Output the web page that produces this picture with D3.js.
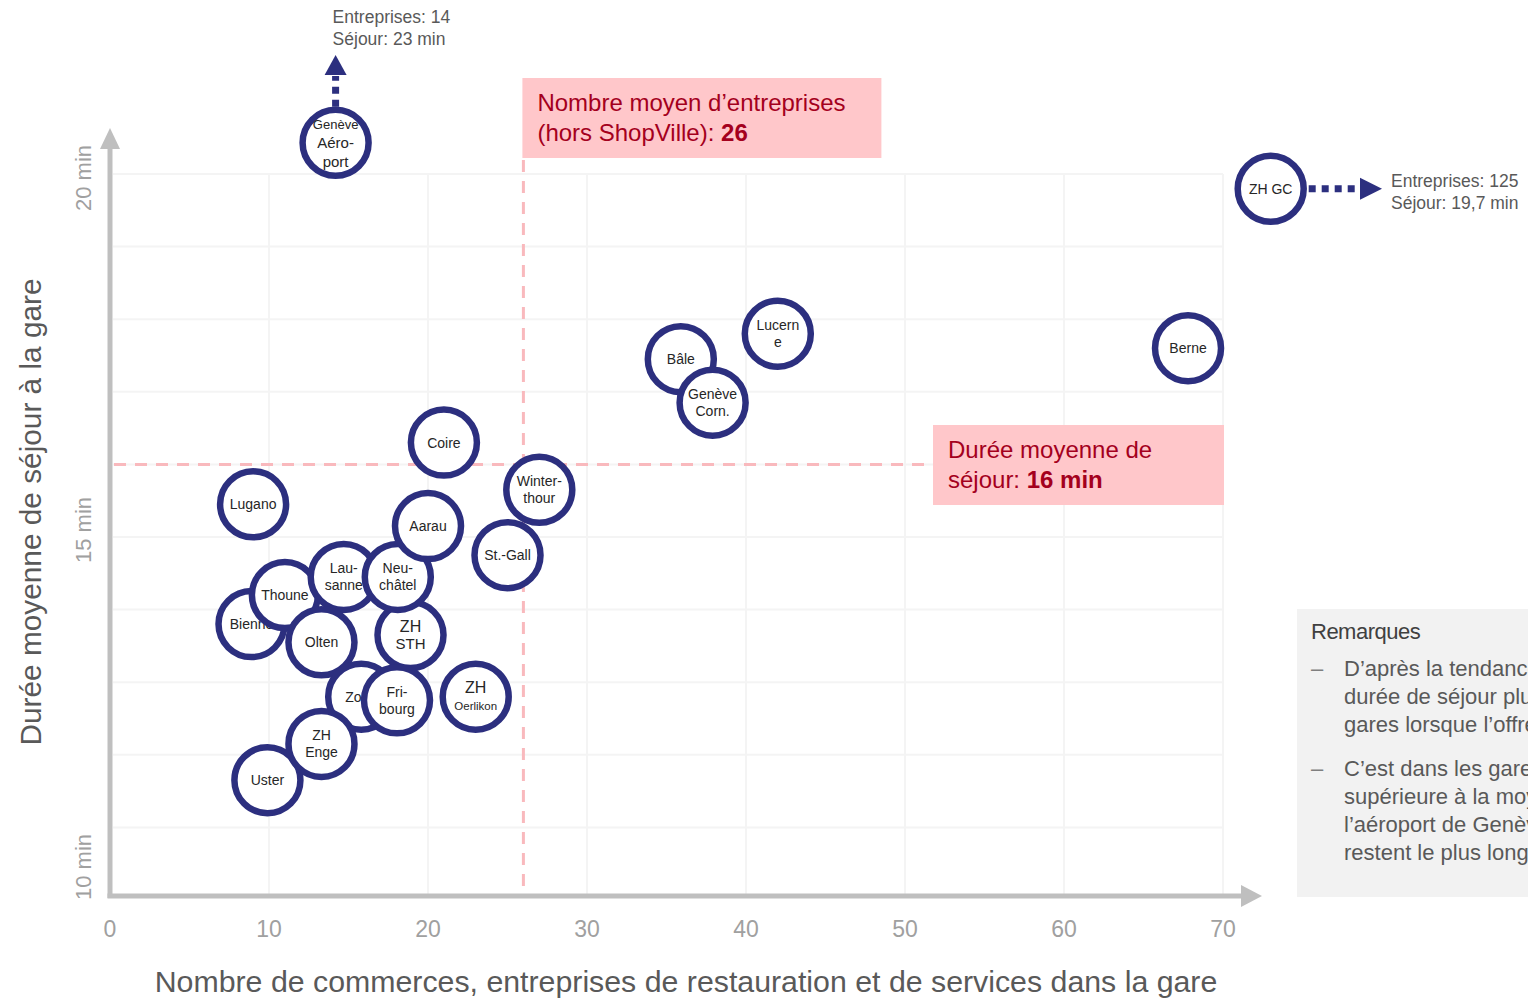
<!DOCTYPE html>
<html>
<head>
<meta charset="utf-8">
<script src="https://cdn.jsdelivr.net/npm/d3@7"></script>
<style>
  html, body { margin: 0; padding: 0; overflow: hidden; background: #fff; }
  svg { display: block; font-family: "Liberation Sans", Arial, sans-serif; }
</style>
</head>
<body>
<div id="chart"></div>
<script>
// Stations (drawing order matters: later circles cover earlier ones)
const stations = ["Lugano", "Bienne", "Thoune", "Lausanne", "Olten", "Zoug", "Uster", "ZH Enge",
  "ZH STH", "Neuchâtel", "Aarau", "Fribourg", "ZH Oerlikon", "Coire", "St.-Gall", "Winterthour",
  "Bâle", "Genève Corn.", "Lucerne", "Berne", "Genève Aéroport", "ZH GC"];
const entreprises = [9, 8.9, 11, 14.7, 13.3, 15.8, 9.9, 13.3,
  18.9, 18.1, 20, 18.05, 23, 21, 25, 27,
  35.9, 37.9, 42, 67.8, 14, 125];
const sejour = [15.45, 13.8, 14.2, 14.45, 13.55, 12.8, 11.65, 12.15,
  13.65, 14.45, 15.15, 12.75, 12.8, 16.3, 14.75, 15.65,
  17.45, 16.85, 17.8, 17.6, 23, 19.7];
const labelLines = [["Lugano"], ["Bienne"], ["Thoune"], ["Lau-", "sanne"], ["Olten"], ["Zoug"], ["Uster"], ["ZH", "Enge"],
  ["ZH", "STH"], ["Neu-", "châtel"], ["Aarau"], ["Fri-", "bourg"], ["ZH", "Oerlikon"], ["Coire"], ["St.-Gall"], ["Winter-", "thour"],
  ["Bâle"], ["Genève", "Corn."], ["Lucern", "e"], ["Berne"], ["Genève", "Aéro-", "port"], ["ZH GC"]];

const xTicks = [0, 10, 20, 30, 40, 50, 60, 70];
const yTicks = [10, 15, 20];
const yTickLabels = ["10 min", "15 min", "20 min"];
const meanEntreprises = 26;
const meanSejour = 16;

const width = 1528, height = 999;
const navy = "#2c2f7f";
const pinkFill = "#ffc7ca";
const darkRed = "#a4001d";

const svg = d3.select("#chart").append("svg")
  .attr("width", width)
  .attr("height", height);

const x = d3.scaleLinear().domain([0, 70]).range([110, 1223]);
const y = d3.scaleLinear().domain([10, 20]).range([900, 174]);

// Grid
const grid = svg.append("g").attr("stroke", "#f4f4f4").attr("stroke-width", 2);
grid.selectAll("line.h")
  .data(d3.range(11, 21))
  .enter().append("line")
  .attr("x1", x(0) + 3).attr("x2", x(70))
  .attr("y1", d => y(d)).attr("y2", d => y(d));
grid.selectAll("line.v")
  .data(d3.range(10, 71, 10))
  .enter().append("line")
  .attr("x1", d => x(d)).attr("x2", d => x(d))
  .attr("y1", y(20)).attr("y2", y(10) - 6);

// Mean lines
svg.append("line")
  .attr("x1", x(0) + 4).attr("x2", 933)
  .attr("y1", y(meanSejour)).attr("y2", y(meanSejour))
  .attr("stroke", "#f9b9bd").attr("stroke-width", 3)
  .attr("stroke-dasharray", "12,9");
svg.append("line")
  .attr("x1", x(meanEntreprises)).attr("x2", x(meanEntreprises))
  .attr("y1", 160).attr("y2", y(10) - 6)
  .attr("stroke", "#f9b9bd").attr("stroke-width", 3)
  .attr("stroke-dasharray", "12,9");

// Axes (thick grey with arrowheads)
const axisColor = "#bfbfbf";
svg.append("line")
  .attr("x1", x(0)).attr("x2", x(0))
  .attr("y1", 898).attr("y2", 146)
  .attr("stroke", axisColor).attr("stroke-width", 5);
svg.append("path")
  .attr("d", `M${x(0)},128 L${x(0) - 10},149 L${x(0) + 10},149 Z`)
  .attr("fill", axisColor);
svg.append("line")
  .attr("x1", x(0) - 2.5).attr("x2", 1244)
  .attr("y1", 896).attr("y2", 896)
  .attr("stroke", axisColor).attr("stroke-width", 5);
svg.append("path")
  .attr("d", `M1262,896 L1241,885 L1241,907 Z`)
  .attr("fill", axisColor);

// Tick labels
svg.selectAll("text.xtick")
  .data(xTicks)
  .enter().append("text")
  .attr("class", "xtick")
  .attr("x", d => x(d))
  .attr("y", 937)
  .attr("text-anchor", "middle")
  .attr("fill", "#a0a0a0")
  .style("font-size", "23px")
  .text(d => d);

svg.selectAll("text.ytick")
  .data(yTicks)
  .enter().append("text")
  .attr("class", "ytick")
  .attr("transform", d => `translate(91,${Math.min(y(d) + (d === 20 ? 4 : -7), y(10) - 33)}) rotate(-90)`)
  .attr("text-anchor", "middle")
  .attr("fill", "#a0a0a0")
  .style("font-size", "22px")
  .text((d, i) => yTickLabels[i]);

// Axis titles
svg.append("text")
  .attr("x", 686).attr("y", 992)
  .attr("text-anchor", "middle")
  .attr("fill", "#595959")
  .style("font-size", "30.3px")
  .text("Nombre de commerces, entreprises de restauration et de services dans la gare");
svg.append("text")
  .attr("transform", "translate(41,512) rotate(-90)")
  .attr("text-anchor", "middle")
  .attr("fill", "#595959")
  .style("font-size", "29.8px")
  .text("Durée moyenne de séjour à la gare");

// Annotation boxes
function noteBox(bx, by, bw, bh, line1, line2a, line2b) {
  svg.append("rect")
    .attr("x", bx).attr("y", by).attr("width", bw).attr("height", bh)
    .attr("fill", pinkFill);
  svg.append("text")
    .attr("x", bx + 15).attr("y", by + 33)
    .attr("fill", darkRed).style("font-size", "24px")
    .text(line1);
  const t = svg.append("text")
    .attr("x", bx + 15).attr("y", by + 63)
    .attr("fill", darkRed).style("font-size", "24px");
  t.append("tspan").text(line2a);
  t.append("tspan").attr("font-weight", "bold").text(line2b);
}
noteBox(x(meanEntreprises) - 1, 78, 359, 80, "Nombre moyen d’entreprises", "(hors ShopVille): ", "26");
noteBox(933, 425, 291, 80, "Durée moyenne de", "séjour: ", "16 min");

// Outlier arrows
const r = 33;
const xMaxShown = 73, yMaxShown = 20.43;
const genIdx = stations.indexOf("Genève Aéroport");
const gcIdx = stations.indexOf("ZH GC");
const gx = x(Math.min(entreprises[genIdx], xMaxShown)) + 3;
const gy = y(Math.min(sejour[genIdx], yMaxShown));
svg.append("line")
  .attr("x1", gx).attr("x2", gx)
  .attr("y1", gy - r - 3).attr("y2", 76)
  .attr("stroke", navy).attr("stroke-width", 7)
  .attr("stroke-dasharray", "7,6");
svg.append("path")
  .attr("d", `M${gx},55 L${gx - 11},75 L${gx + 11},75 Z`)
  .attr("fill", navy);
svg.append("text").attr("x", gx - 3).attr("y", 23)
  .attr("fill", "#595959").style("font-size", "17.5px")
  .text(`Entreprises: ${entreprises[genIdx]}`);
svg.append("text").attr("x", gx - 3).attr("y", 45)
  .attr("fill", "#595959").style("font-size", "17.5px")
  .text(`Séjour: ${sejour[genIdx]} min`);

const zx = x(Math.min(entreprises[gcIdx], xMaxShown));
const zy = y(Math.min(sejour[gcIdx], yMaxShown)) - 7;
svg.append("line")
  .attr("x1", zx + r + 5).attr("x2", 1362)
  .attr("y1", zy).attr("y2", zy)
  .attr("stroke", navy).attr("stroke-width", 7)
  .attr("stroke-dasharray", "7,6");
svg.append("path")
  .attr("d", `M1382,${zy} L1360,${zy - 11} L1360,${zy + 11} Z`)
  .attr("fill", navy);
svg.append("text").attr("x", 1391).attr("y", zy - 2)
  .attr("fill", "#595959").style("font-size", "17.5px")
  .text(`Entreprises: ${entreprises[gcIdx]}`);
svg.append("text").attr("x", 1391).attr("y", zy + 20)
  .attr("fill", "#595959").style("font-size", "17.5px")
  .text(`Séjour: ${String(sejour[gcIdx]).replace(".", ",")} min`);

// Station bubbles
const nodes = stations.map((s, i) => ({
  name: s,
  cx: x(Math.min(entreprises[i], xMaxShown)) + (s === "Genève Aéroport" ? 3 : 0),
  cy: y(Math.min(sejour[i], yMaxShown)) - (s === "ZH GC" ? 7 : 0),
  lines: labelLines[i]
}));

const g = svg.selectAll("g.station")
  .data(nodes)
  .enter().append("g")
  .attr("class", "station")
  .attr("transform", d => `translate(${d.cx},${d.cy})`);

g.append("circle")
  .attr("r", r)
  .attr("fill", "#fff")
  .attr("stroke", navy)
  .attr("stroke-width", 6.5);

function lineSize(name, line, idx) {
  if (name === "ZH STH" || name === "ZH Oerlikon") return idx === 0 ? 16 : (name === "ZH Oerlikon" ? 11.5 : 15);
  if (name === "Genève Aéroport") return idx === 0 ? 13 : 15;
  return 14;
}

g.each(function(d) {
  const n = d.lines.length;
  const lh = n === 3 ? 19 : 17;
  const t = d3.select(this).append("text")
    .attr("text-anchor", "middle")
    .attr("fill", "#262626");
  d.lines.forEach((ln, k) => {
    t.append("tspan")
      .attr("x", 0)
      .attr("y", (k - (n - 1) / 2) * lh + 5)
      .style("font-size", lineSize(d.name, ln, k) + "px")
      .text(ln);
  });
});

// Remarques box
svg.append("rect")
  .attr("x", 1297).attr("y", 609).attr("width", 240).attr("height", 288)
  .attr("fill", "#f2f2f2");
svg.append("text")
  .attr("x", 1311).attr("y", 639)
  .attr("fill", "#404040").style("font-size", "22px")
  .style("letter-spacing", "-0.5px")
  .text("Remarques");
const remarks = [
  ["D’après la tendance, on observe une", "durée de séjour plus longue dans les", "gares lorsque l’offre est plus grande."],
  ["C’est dans les gares avec une offre", "supérieure à la moyenne et à", "l’aéroport de Genève que les clients", "restent le plus longtemps."]
];
let by = 676;
remarks.forEach(block => {
  svg.append("text").attr("x", 1311).attr("y", by)
    .attr("fill", "#7f7f7f").style("font-size", "22px").text("–");
  block.forEach(line => {
    svg.append("text").attr("x", 1344).attr("y", by)
      .attr("fill", "#595959").style("font-size", "22px").text(line);
    by += 28;
  });
  by += 16;
});
</script>
</body>
</html>
